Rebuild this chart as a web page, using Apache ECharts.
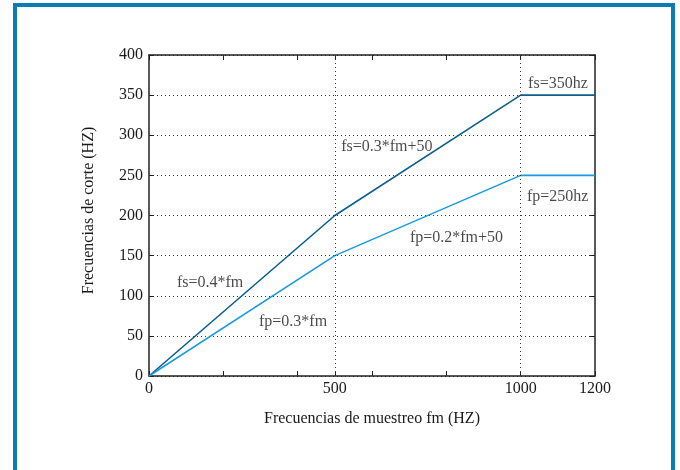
<!DOCTYPE html>
<html>
<head>
<meta charset="utf-8">
<script src="https://cdn.jsdelivr.net/npm/echarts@6/dist/echarts.min.js"></script>
<style>
  html, body { margin: 0; padding: 0; background: #fff; }
  #chart { width: 680px; height: 470px; }
</style>
</head>
<body>
<div id="chart"></div>
<script>
// Sampling frequency fm (HZ)
const fm = [0, 500, 1000, 1200];
// Stop-band cut-off fs and pass-band cut-off fp (HZ)
const fs = [0, 200, 350, 350];
const fp = [0, 150, 250, 250];

// Axis tick labels
const xLabels = [0, 500, 1000, 1200];
const xTicks = [0, 200, 400, 500, 600, 800, 1000, 1200];
const xGrid = [500, 1000];

// Formula annotations: [fm, value, text]
const notes = [
  [1020, 364, 'fs=350hz'],
  [517, 285, 'fs=0.3*fm+50'],
  [1017, 223, 'fp=250hz'],
  [702, 172, 'fp=0.2*fm+50'],
  [75, 116, 'fs=0.4*fm'],
  [296, 67, 'fp=0.3*fm']
];

const FONT = '"Liberation Serif", "DejaVu Serif", serif';
const TEXT = '#1a1a1a';
const AXIS = '#222';

const chart = echarts.init(document.getElementById('chart'), null, { renderer: 'canvas' });

const dotted = { type: [1, 3], color: '#333', width: 1 };

chart.setOption({
  animation: false,
  backgroundColor: '#fff',
  graphic: [{
    type: 'rect',
    shape: { x: 15, y: 5, width: 658, height: 468 },
    style: { fill: 'none', stroke: '#0b7bb6', lineWidth: 4 },
    silent: true
  }],
  grid: { left: 149, right: 85, top: 55, bottom: 94 },
  xAxis: [
    {
      type: 'value', position: 'bottom', min: 0, max: 1200,
      name: 'Frecuencias de muestreo fm (HZ)', nameLocation: 'middle', nameGap: 35,
      nameTextStyle: { fontFamily: FONT, fontSize: 16, color: TEXT },
      axisLine: { show: true, lineStyle: { color: AXIS, width: 1.5 } },
      axisTick: { show: true, inside: true, length: 5, customValues: xTicks, lineStyle: { color: AXIS } },
      axisLabel: {
        show: true, customValues: xLabels, fontFamily: FONT, fontSize: 16, color: TEXT, margin: 5,
        formatter: v => String(v)
      },
      splitLine: { show: false }
    },
    {
      type: 'value', position: 'top', min: 0, max: 1200,
      axisLine: { show: true, onZero: false, lineStyle: { color: AXIS, width: 1.5 } },
      axisTick: { show: true, inside: true, length: 5, customValues: xTicks, lineStyle: { color: AXIS } },
      axisLabel: { show: false },
      splitLine: { show: false }
    }
  ],
  yAxis: [
    {
      type: 'value', position: 'left', min: 0, max: 400, interval: 50,
      name: 'Frecuencias de corte (HZ)', nameLocation: 'middle', nameGap: 52,
      nameTextStyle: { fontFamily: FONT, fontSize: 16, color: TEXT, padding: [0, 0, 0, 10] },
      axisLine: { show: true, onZero: false, lineStyle: { color: AXIS, width: 1.5 } },
      axisTick: { show: true, inside: true, length: 5, lineStyle: { color: AXIS } },
      axisLabel: { fontFamily: FONT, fontSize: 16, color: TEXT, margin: 6, formatter: v => String(v) },
      splitLine: { show: true, lineStyle: dotted }
    },
    {
      type: 'value', position: 'right', min: 0, max: 400, interval: 50,
      axisLine: { show: true, onZero: false, lineStyle: { color: AXIS, width: 1.5 } },
      axisTick: { show: true, inside: true, length: 5, lineStyle: { color: AXIS } },
      axisLabel: { show: false },
      splitLine: { show: false }
    }
  ],
  series: [
    {
      type: 'line', name: 'guides', xAxisIndex: 0, yAxisIndex: 0, data: [],
      silent: true,
      markLine: {
        symbol: 'none', silent: true, label: { show: false },
        lineStyle: dotted,
        data: xGrid.map(v => ({ xAxis: v }))
      }
    },
    {
      type: 'line', name: 'fs', xAxisIndex: 0, yAxisIndex: 0,
      data: fm.map((x, i) => [x, fs[i]]),
      showSymbol: false, symbol: 'none',
      lineStyle: { color: '#0c5f8c', width: 1.6 },
      z: 3
    },
    {
      type: 'line', name: 'fp', xAxisIndex: 0, yAxisIndex: 0,
      data: fm.map((x, i) => [x, fp[i]]),
      showSymbol: false, symbol: 'none',
      lineStyle: { color: '#1a9ae0', width: 1.6 },
      z: 3
    },
    {
      type: 'scatter', name: 'notes', xAxisIndex: 0, yAxisIndex: 0,
      data: notes.map(n => ({ value: [n[0], n[1]], text: n[2] })),
      symbolSize: 0, silent: true,
      label: {
        show: true, position: 'right', distance: 0,
        formatter: p => p.data.text,
        fontFamily: FONT, fontSize: 16, color: TEXT
      },
      z: 4
    }
  ]
});
</script>
</body>
</html>
